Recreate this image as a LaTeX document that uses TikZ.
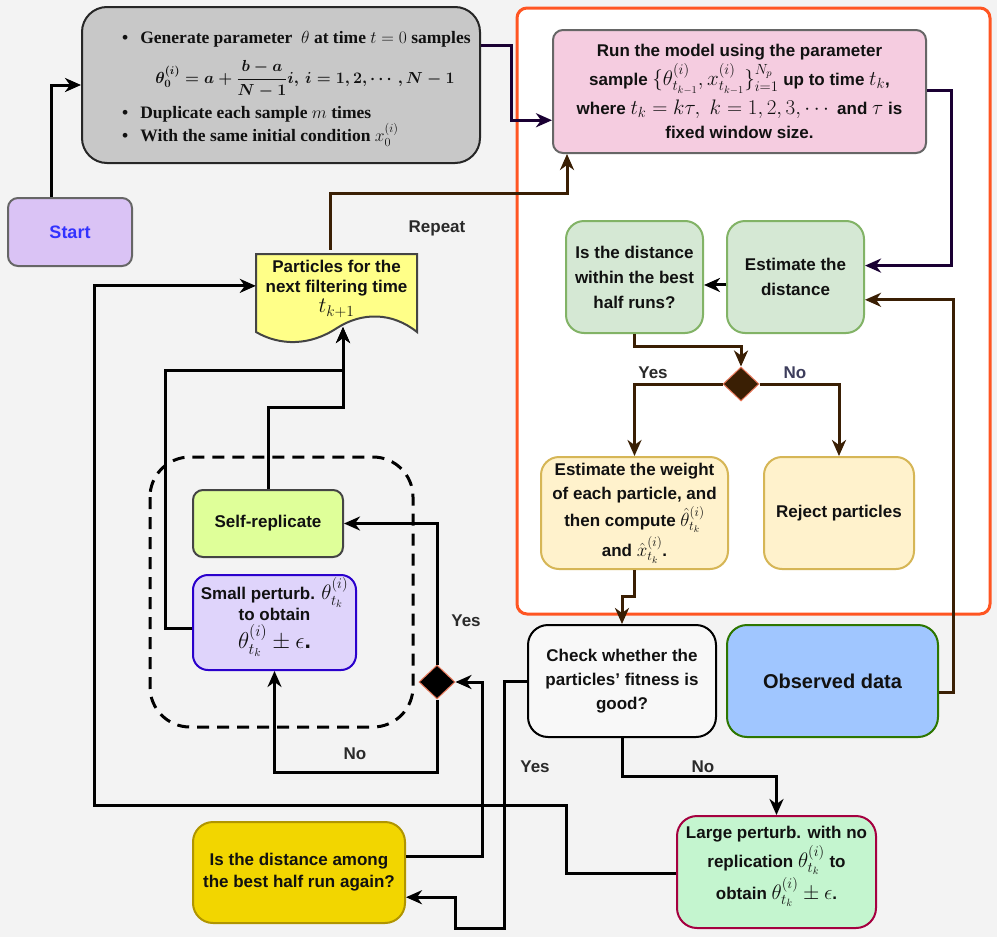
\RequirePackage{fix-cm}
\documentclass[tikz,border=0pt]{standalone}
\usepackage{amsmath}
\usepackage{fontspec}
\setmainfont{Liberation Sans}
\newfontfamily\tnr{Liberation Serif}
\usetikzlibrary{arrows.meta,shapes.geometric,calc}
\newcommand\mbig[1]{{\fontsize{21}{25}\selectfont$#1$}}
\newcommand\mmid[1]{{\fontsize{19}{24}\selectfont$#1$}}
\definecolor{bgc}{HTML}{F3F3F3}
\definecolor{frameor}{HTML}{FF5522}
\definecolor{grayfill}{HTML}{C8C8C8}
\definecolor{startfill}{HTML}{DAC3F5}
\definecolor{startxt}{HTML}{3333FF}
\definecolor{pinkfill}{HTML}{F5CCE0}
\definecolor{midgray}{HTML}{666666}
\definecolor{gfill}{HTML}{D5E8D4}
\definecolor{gline}{HTML}{82B366}
\definecolor{yfill}{HTML}{FFF2CC}
\definecolor{yline}{HTML}{D6B656}
\definecolor{chkfill}{HTML}{F8F8F8}
\definecolor{obsfill}{HTML}{A0C6FF}
\definecolor{obsline}{HTML}{2D7600}
\definecolor{lgfill}{HTML}{C4F5CF}
\definecolor{lgline}{HTML}{A50040}
\definecolor{goldfill}{HTML}{F2D600}
\definecolor{goldline}{HTML}{B09500}
\definecolor{srfill}{HTML}{DFFF99}
\definecolor{darkline}{HTML}{444444}
\definecolor{spfill}{HTML}{DFD4FB}
\definecolor{spline}{HTML}{2A00CC}
\definecolor{docfill}{HTML}{FFFF88}
\definecolor{purp}{HTML}{1A0033}
\definecolor{brwn}{HTML}{3A1F04}
\definecolor{salmon}{HTML}{E8785A}
\definecolor{txt}{HTML}{111111}
\definecolor{lbltxt}{HTML}{2A2A2A}
\definecolor{notxt}{HTML}{3D3D5C}
\tikzset{
  base/.style={draw, line width=2pt, align=center, inner sep=0pt,
    font=\bfseries\fontsize{17}{25}\selectfont, text=txt},
  conn/.style={line width=3pt, -{Stealth[length=16pt,width=14pt,inset=5pt]}},
  lbl/.style={font=\bfseries\fontsize{17}{20}\selectfont, text=lbltxt, inner sep=0pt},
  dia/.style={diamond, draw=salmon, line width=1pt, minimum width=36pt,
    minimum height=34pt, inner sep=0pt},
}
\begin{document}
\begin{tikzpicture}[x=1pt,y=-1pt]
\fill[bgc] (0,0) rectangle (997,937);
\useasboundingbox (0,0) rectangle (997,937);

% frames
\draw[frameor, fill=white, line width=3pt, rounded corners=10pt] (517,8) rectangle (990,614);
\draw[black, line width=3pt, dash pattern=on 12pt off 8pt, rounded corners=40pt] (150,457) rectangle (413,727);

% nodes
\node[base, fill=grayfill, draw=black!85, rounded corners=25pt, minimum width=398pt, minimum height=156pt] (gen) at (281,85)
{\parbox{318pt}{\tnr\bfseries\fontsize{17.5}{22}\selectfont
\vspace*{8pt}
\mbox{\textbullet\hspace{0.7em}Generate parameter\ \ $\theta$ at time $t=0$ samples}\par
\vspace{12pt}
\hbox to 318pt{\hss\hspace*{48pt}{\fontsize{16}{20}\selectfont\boldmath$\theta^{(i)}_0=a+\dfrac{b-a}{N-1}i,\,i=1,2,\cdots,N-1$}\hss}\par
\vspace{8pt}
\mbox{\textbullet\hspace{0.7em}Duplicate each sample $m$ times}\par
\mbox{\textbullet\hspace{0.7em}With the same initial condition $x^{(i)}_0$}\par}};

\node[base, fill=startfill, draw=midgray, rounded corners=10pt, minimum width=124pt, minimum height=68pt,
  font=\bfseries\fontsize{18}{22}\selectfont, text=startxt] (start) at (70,232) {Start};

\node[base, fill=pinkfill, draw=midgray, rounded corners=10pt, minimum width=373pt, minimum height=123pt,
  font=\bfseries\fontsize{17}{24}\selectfont] (run) at (739.5,91.5)
{Run the model using the parameter\\[3pt]
sample \mbig{\{\theta^{(i)}_{t_{k-1}},x^{(i)}_{t_{k-1}}\}^{N_p}_{i=1}} up to time \mbig{t_k},\\[5pt]
where \mbig{t_k=k\tau,\ k=1,2,3,\cdots} and \mbig{\tau} is\\
fixed window size.};

\node[base, fill=gfill, draw=gline, rounded corners=18pt, minimum width=137pt, minimum height=112pt] (isdist) at (634.5,277)
{Is the distance\\within the best\\half runs?};
\node[base, fill=gfill, draw=gline, rounded corners=18pt, minimum width=137pt, minimum height=112pt] (estd) at (795.5,277)
{Estimate the\\distance};

\node[dia, fill=brwn] (d1) at (741,384) {};

\node[base, fill=yfill, draw=yline, rounded corners=18pt, minimum width=187pt, minimum height=112pt,
  font=\bfseries\fontsize{17}{24}\selectfont] (weight) at (634.5,513)
{Estimate the weight\\of each particle, and\\[3pt]then compute \mmid{\hat\theta^{(i)}_{t_k}}\\[3pt]and \mmid{\hat x^{(i)}_{t_k}}.};
\node[base, fill=yfill, draw=yline, rounded corners=18pt, minimum width=150pt, minimum height=112pt] (reject) at (839,513)
{Reject particles};

\node[base, fill=chkfill, draw=black, rounded corners=20pt, minimum width=188pt, minimum height=112pt,
  font=\bfseries\fontsize{17}{24}\selectfont] (check) at (622,681)
{Check whether the\\particles’ fitness is\\good?};
\node[base, fill=obsfill, draw=obsline, rounded corners=20pt, minimum width=211pt, minimum height=112pt,
  font=\bfseries\fontsize{20}{24}\selectfont] (obs) at (832.5,681) {Observed data};

\node[base, fill=lgfill, draw=lgline, rounded corners=20pt, minimum width=199pt, minimum height=112pt,
  font=\bfseries\fontsize{17}{24}\selectfont] (large) at (776.5,872)
{Large perturb. with no\\[2pt]replication \mbig{\theta^{(i)}_{t_k}} to\\[2pt]obtain \mbig{\theta^{(i)}_{t_k}\pm\epsilon}.\\[-6pt]};

\node[base, fill=goldfill, draw=goldline, rounded corners=20pt, minimum width=212pt, minimum height=101pt,
  font=\bfseries\fontsize{17}{22}\selectfont] (gold) at (299,872.5)
{Is the distance among\\the best half run again?};

\node[base, fill=srfill, draw=darkline, rounded corners=10pt, minimum width=150pt, minimum height=67pt] (selfr) at (268,523.5)
{Self-replicate};
\node[base, fill=spfill, draw=spline, rounded corners=15pt, minimum width=163pt, minimum height=95pt,
  font=\bfseries\fontsize{17}{21}\selectfont] (small) at (274.5,622.5)
{Small perturb. \mbig{\theta^{(i)}_{t_k}}\\to obtain\\[2pt]{\fontsize{23}{26}\selectfont$\theta^{(i)}_{t_k}\pm\epsilon$.}\\[-2pt]};

\node[dia, fill=black] (d2) at (437,682) {};

% document shape
\draw[darkline, fill=docfill, line width=2pt]
  (256,254) -- (417,254) -- (417,332)
  .. controls (392,312) and (362,312) .. (337,328)
  .. controls (310,346) and (280,346) .. (256,332) -- cycle;
\node[align=center, inner sep=0pt, minimum width=161pt, minimum height=78pt,
  font=\bfseries\fontsize{17}{20}\selectfont, text=txt] (doc) at (336.5,289)
{Particles for the\\next filtering time\\{\fontsize{22}{22}\selectfont$t_{k+1}$}};
\coordinate (docb) at (343,327);

% connectors
\draw[conn, black] ($(start.north west)!0.35!(start.north east)$) |- (gen.west);
\draw[conn, purp] ($(gen.north east)!0.25!(gen.south east)$) -- ++(30,0) |- ($(run.north west)!0.73!(run.south west)$);
\draw[conn, purp] ($(run.north east)!0.49!(run.south east)$) -- ++(24,0) |- ($(estd.north east)!0.4!(estd.south east)$);
\draw[conn, brwn] ($(obs.north east)!0.6!(obs.south east)$) -- ++(14,0) |- ($(estd.north east)!0.7!(estd.south east)$);
\draw[conn, black] ($(estd.north west)!0.57!(estd.south west)$) -- (isdist.east |- {$(estd.north west)!0.57!(estd.south west)$});
\draw[conn, brwn] (isdist.south) -- ++(0,12) -| (d1.north);
\draw[conn, brwn] (d1.west) -| (weight.north);
\draw[conn, brwn] (d1.east) -| (reject.north);
\draw[conn, brwn] (weight.south) -- ++(0,26) -| (check.north);
\draw[conn, black] (check.south) -- ++(0,38) -| (large.north);
\draw[conn, black] (check.west) -- ++(-23,0) -- ++(0,247) -- ++(-49,0) |- ($(gold.north east)!0.74!(gold.south east)$);
\draw[conn, black] ($(gold.north east)!0.34!(gold.south east)$) -- ++(76,0) |- (d2.east);
\draw[conn, black] (d2.north) |- (selfr.east);
\draw[conn, black] (d2.south) -- ++(0,73) -| (small.south);
\draw[conn, black] (selfr.north) -- ++(0,-82) -| (docb);
\draw[conn, black] ($(small.north west)!0.56!(small.south west)$) -- ++(-27,0) -- ++(0,-258) -| (docb);
\draw[conn, black] ($(large.north west)!0.51!(large.south west)$) -- ++(-110,0) -- ++(0,-68) -- ++(-472,0) |- ($(doc.north west)!0.46!(doc.south west)$);
\draw[conn, brwn] ($(doc.north west)!0.46!(doc.north east)$) -- ++(0,-56) -| ($(run.south west)!0.04!(run.south east)$);

% labels
\node[lbl] (lrep) at (437,228) {Repeat};
\node[lbl] (ly1) at (653,373) {Yes};
\node[lbl, text=notxt] (ln1) at (795,373) {No};
\node[lbl] (ly2) at (466,621) {Yes};
\node[lbl] (ln2) at (355,754) {No};
\node[lbl] (ly3) at (535,767) {Yes};
\node[lbl] (ln3) at (703,767) {No};
\end{tikzpicture}
\end{document}
